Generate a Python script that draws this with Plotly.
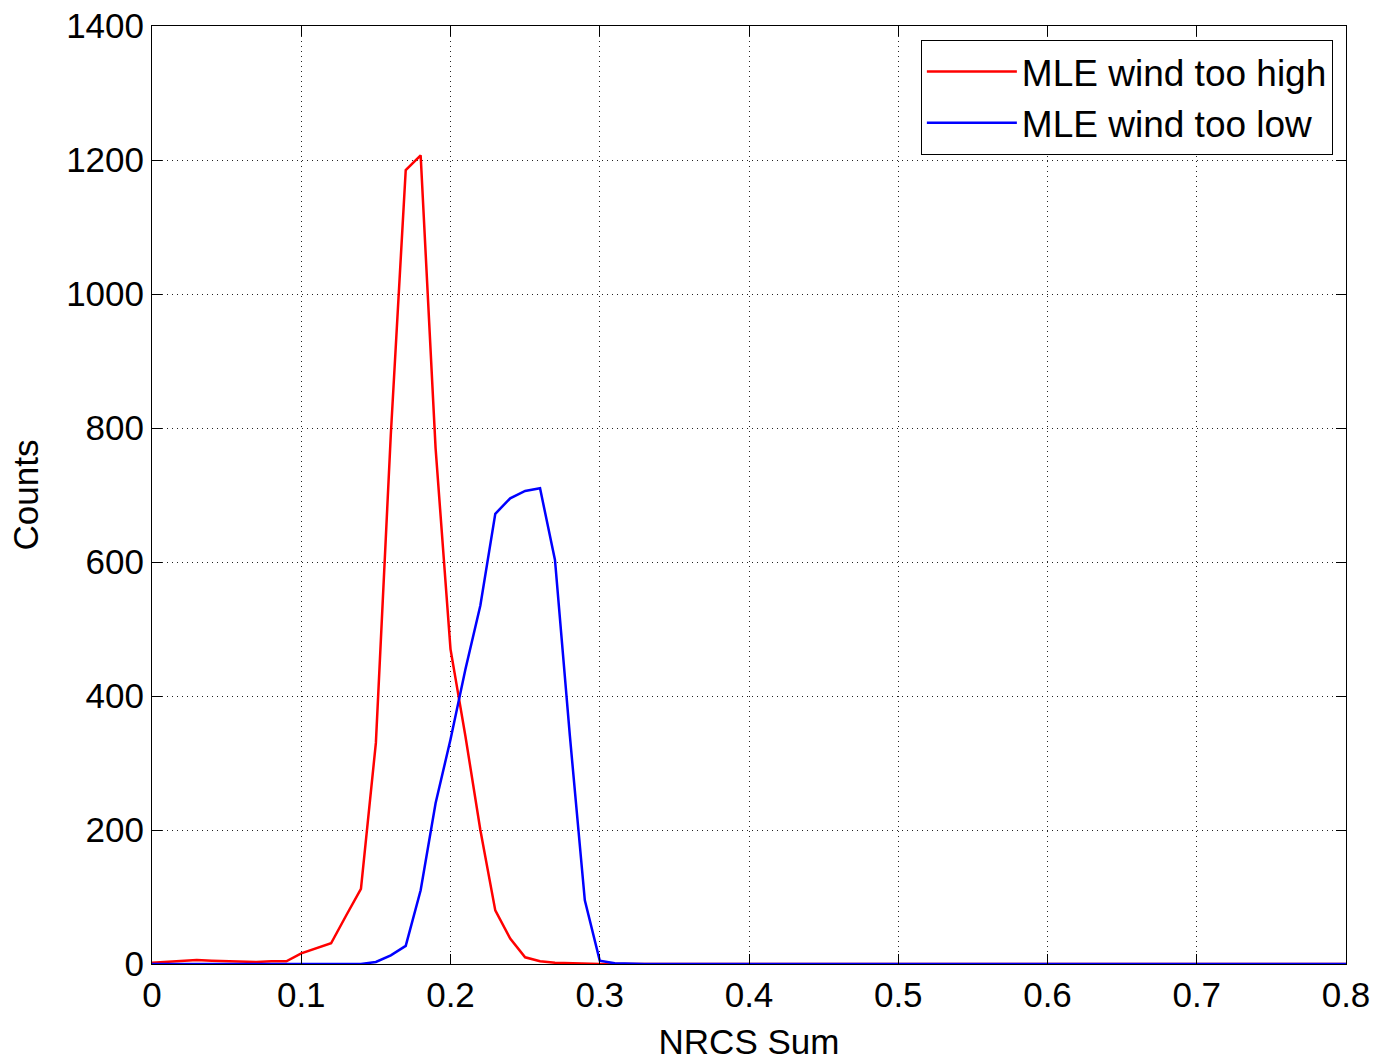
import plotly.graph_objects as go

nrcs_sum = [0.00, 0.01, 0.02, 0.03, 0.04, 0.05, 0.06, 0.07, 0.08, 0.09,
            0.10, 0.11, 0.12, 0.13, 0.14, 0.15, 0.16, 0.17, 0.18, 0.19,
            0.20, 0.21, 0.22, 0.23, 0.24, 0.25, 0.26, 0.27, 0.28, 0.29,
            0.30, 0.31, 0.32, 0.33, 0.34, 0.35, 0.36, 0.37, 0.38, 0.39,
            0.40, 0.41, 0.42, 0.43, 0.44, 0.45, 0.46, 0.47, 0.48, 0.49,
            0.50, 0.51, 0.52, 0.53, 0.54, 0.55, 0.56, 0.57, 0.58, 0.59,
            0.60, 0.61, 0.62, 0.63, 0.64, 0.65, 0.66, 0.67, 0.68, 0.69,
            0.70, 0.71, 0.72, 0.73, 0.74, 0.75, 0.76, 0.77, 0.78, 0.79,
            0.80]

wind_too_high = [2, 3, 5, 6, 5, 4, 3, 3, 4, 4,
                 16, 24, 31, 72, 112, 330, 790, 1185, 1207, 770,
                 470, 340, 200, 80, 38, 10, 4, 2, 1, 1,
                 0, 0, 0, 0, 0, 0, 0, 0, 0, 0,
                 0, 0, 0, 0, 0, 0, 0, 0, 0, 0,
                 0, 0, 0, 0, 0, 0, 0, 0, 0, 0,
                 0, 0, 0, 0, 0, 0, 0, 0, 0, 0,
                 0, 0, 0, 0, 0, 0, 0, 0, 0, 0,
                 0]

wind_too_low = [0, 0, 0, 0, 0, 0, 0, 0, 0, 0,
                0, 0, 0, 0, 0, 3, 13, 27, 110, 240,
                335, 440, 535, 672, 695, 706, 710, 603, 340, 95,
                5, 1, 0, 0, 0, 0, 0, 0, 0, 0,
                0, 0, 0, 0, 0, 0, 0, 0, 0, 0,
                0, 0, 0, 0, 0, 0, 0, 0, 0, 0,
                0, 0, 0, 0, 0, 0, 0, 0, 0, 0,
                0, 0, 0, 0, 0, 0, 0, 0, 0, 0,
                0]

FONT = "Liberation Sans, Arial, Helvetica, sans-serif"

fig = go.Figure()
fig.add_trace(go.Scatter(x=nrcs_sum, y=wind_too_high, mode="lines",
                         name="MLE wind too high",
                         line=dict(color="#ff0000", width=2.5)))
fig.add_trace(go.Scatter(x=nrcs_sum, y=wind_too_low, mode="lines",
                         name="MLE wind too low",
                         line=dict(color="#0000ff", width=2.5)))

axis_common = dict(
    showline=True, linecolor="black", linewidth=1, mirror="ticks",
    ticks="inside", ticklen=10, tickcolor="black", tickwidth=1,
    showgrid=True, gridcolor="#222222", gridwidth=1, griddash="1px,4px",
    zeroline=False, automargin=False,
    tickfont=dict(family=FONT, size=35, color="black"),
)

fig.update_xaxes(range=[0, 0.8], dtick=0.1, tick0=0,
                 title=dict(text="NRCS Sum", standoff=16,
                            font=dict(family=FONT, size=35, color="black")),
                 **axis_common)
fig.update_yaxes(range=[0, 1400], dtick=200, tick0=0,
                 title=dict(text="Counts", standoff=16,
                            font=dict(family=FONT, size=35, color="black")),
                 **axis_common)

fig.update_layout(
    width=1374, height=1063,
    margin=dict(l=152, r=28, t=26, b=99, autoexpand=False),
    paper_bgcolor="white", plot_bgcolor="white",
    font=dict(family=FONT, size=35, color="black"),
    legend=dict(x=0.989, y=0.985, xanchor="right", yanchor="top",
                bordercolor="black", borderwidth=1, bgcolor="white",
                font=dict(family=FONT, size=37, color="black"),
                itemwidth=90, tracegroupgap=0),
    showlegend=True,
)

fig.write_html("out.html")
